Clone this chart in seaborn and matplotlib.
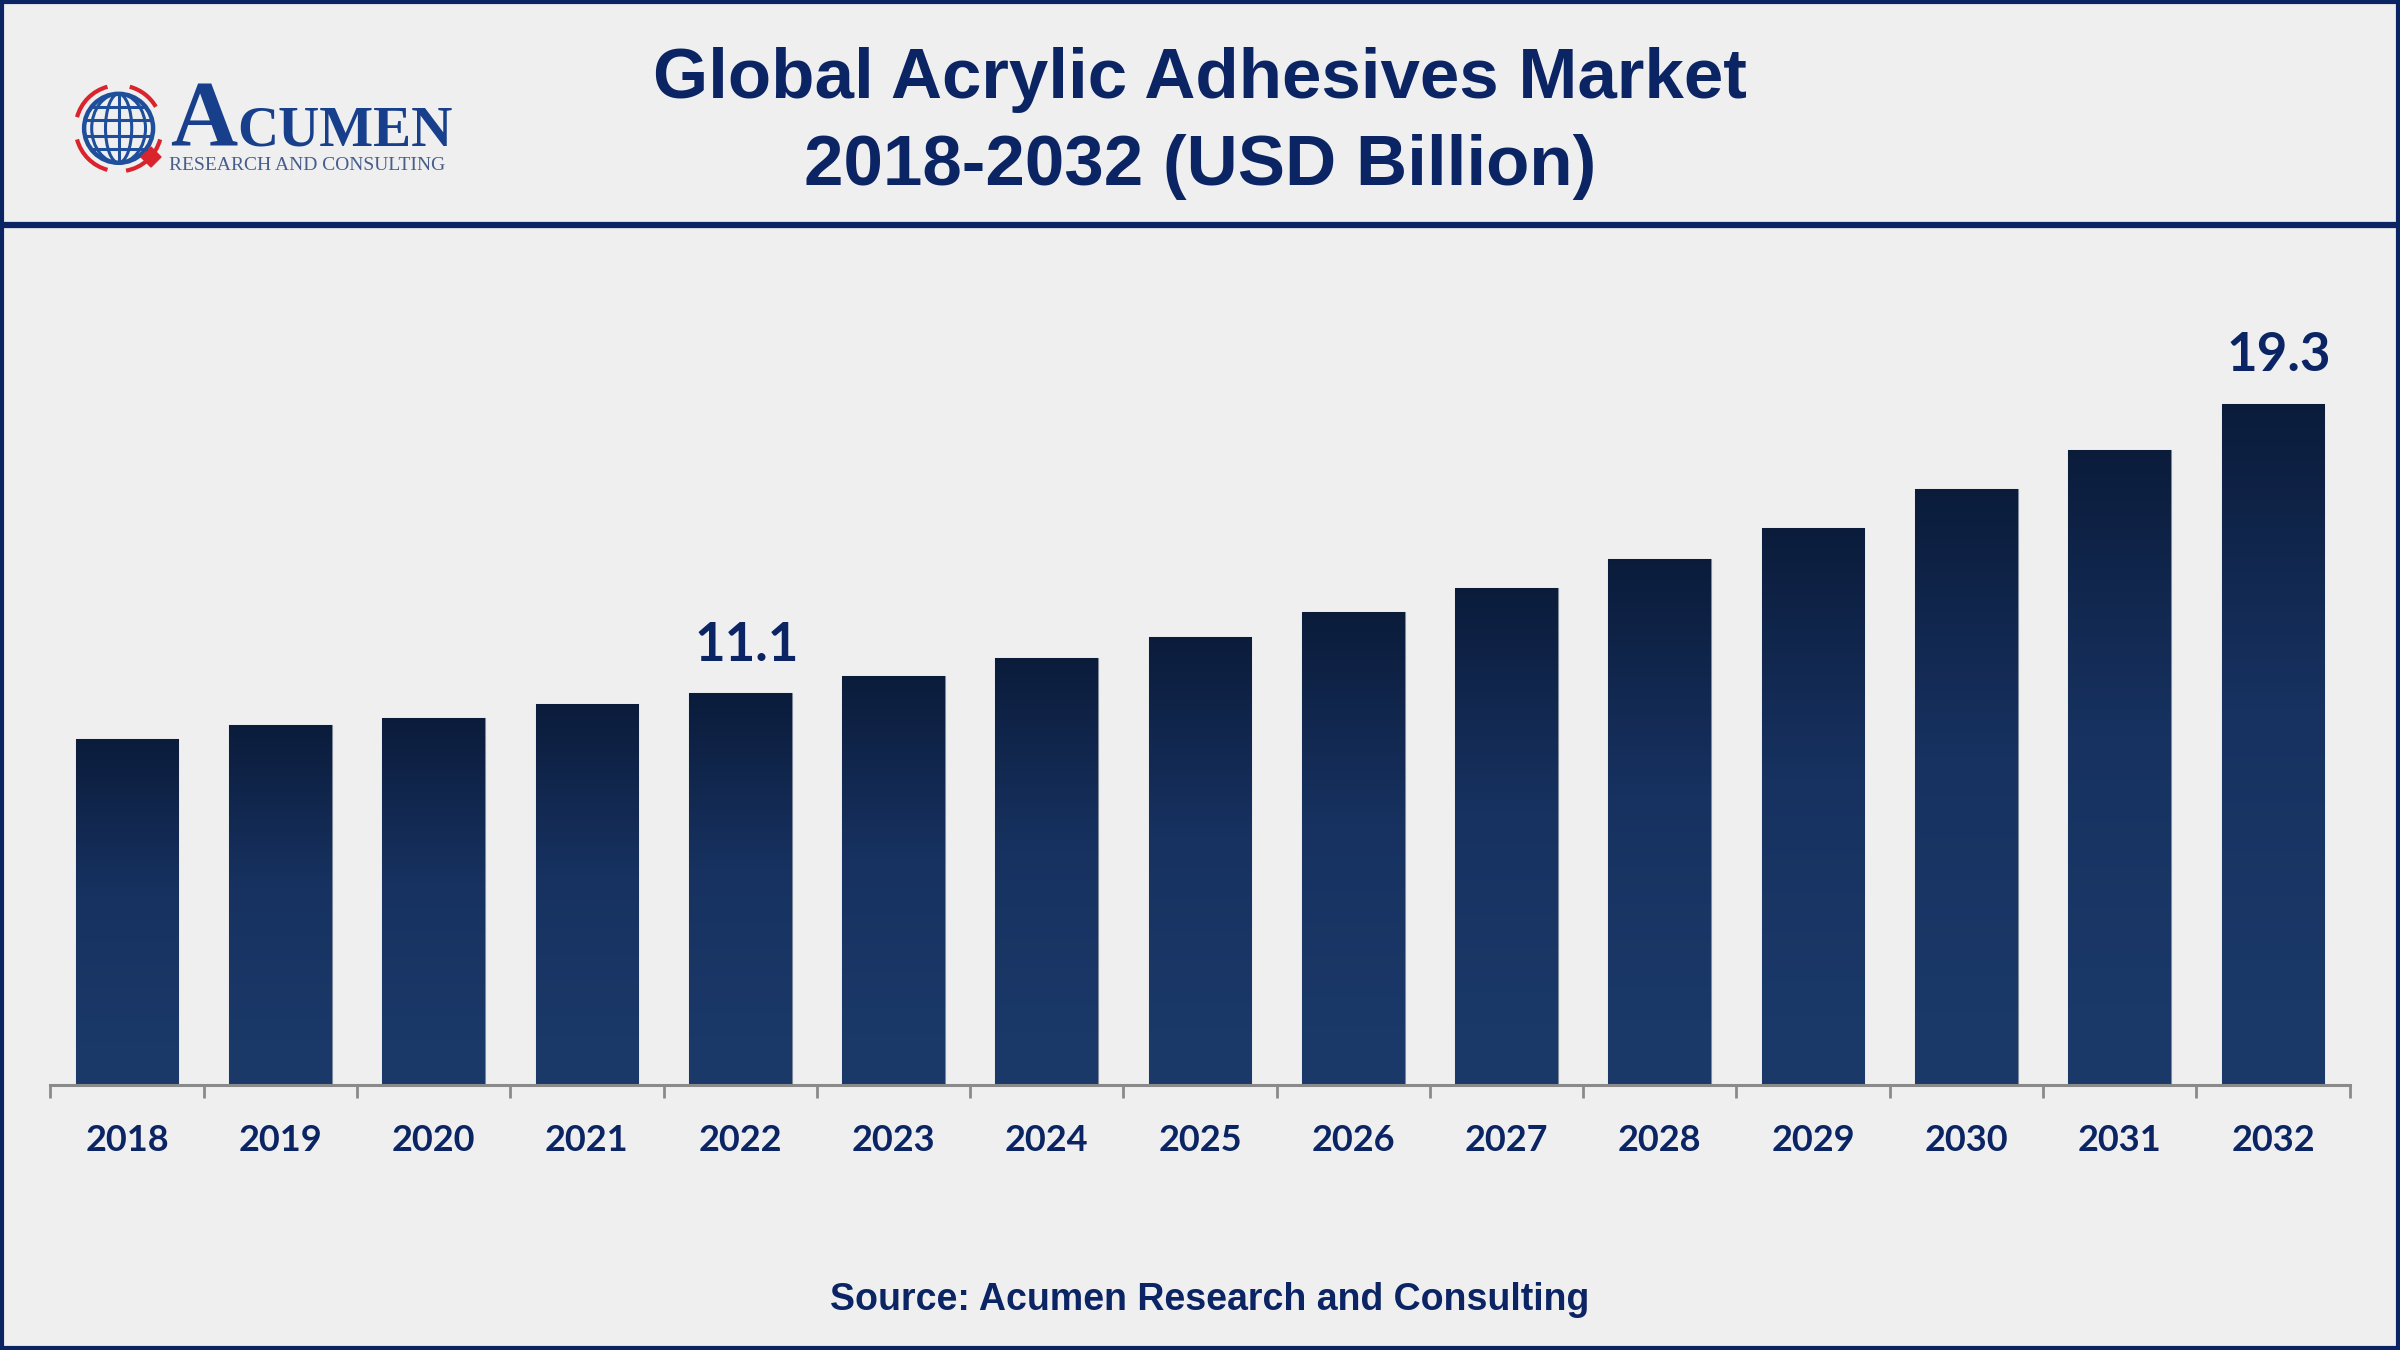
import numpy as np
import pandas as pd
import matplotlib
matplotlib.use("Agg")
import matplotlib.pyplot as plt
import seaborn as sns
from matplotlib.colors import LinearSegmentedColormap
from matplotlib.patches import Rectangle, Circle, Ellipse, Arc, RegularPolygon
from matplotlib.lines import Line2D

# Data
years = ["2018", "2019", "2020", "2021", "2022", "2023", "2024", "2025",
         "2026", "2027", "2028", "2029", "2030", "2031", "2032"]
values = [9.8, 10.2, 10.4, 10.8, 11.1, 11.6, 12.1, 12.7,
          13.4, 14.1, 14.9, 15.8, 16.9, 18.0, 19.3]
shown_labels = {"2022": "11.1", "2032": "19.3"}

title = "Global Acrylic Adhesives Market\n2018-2032 (USD Billion)"
source = "Source: Acumen Research and Consulting"

navy = "#0b2463"
bg = "#efefef"

df = pd.DataFrame({"year": years, "value": values})

sns.set_theme(style="white")
plt.rcParams["font.family"] = ["Liberation Sans", "DejaVu Sans"]

fig = plt.figure(figsize=(24, 13.5), dpi=100)
fig.patch.set_facecolor(bg)

ax = fig.add_axes([0.021, 0.1961, 0.958, 0.577])
ax.set_facecolor(bg)

sns.barplot(data=df, x="year", y="value", color="#16325e", width=0.67,
            edgecolor="#7f8a9a", linewidth=0.8, ax=ax)

# gradient fill on each bar
cmap = LinearSegmentedColormap.from_list(
    "bar", [(0, "#1b3a6a"), (0.55, "#173261"), (1, "#0b1c3b")])
grad = np.linspace(0, 1, 256).reshape(-1, 1)
for p in ax.patches:
    x0, w, h = p.get_x(), p.get_width(), p.get_height()
    im = ax.imshow(grad, cmap=cmap, aspect="auto", origin="lower",
                   extent=[x0, x0 + w, 0, h], zorder=p.get_zorder() + 0.1)
    im.set_clip_path(p)

ax.set_xlim(-0.5, len(years) - 0.5)
ax.set_ylim(0, 22.07)

# value labels
for i, (yr, v) in enumerate(zip(years, values)):
    if yr in shown_labels:
        ax.text(i + 0.04, v + 0.67, shown_labels[yr], ha="center", va="bottom",
                fontsize=38, fontweight="bold", color=navy, family="Lato")

# axes styling
for s in ["top", "right", "left"]:
    ax.spines[s].set_visible(False)
ax.spines["bottom"].set_color("#8a8a8a")
ax.spines["bottom"].set_linewidth(2.2)
ax.set_yticks([])
ax.set_xlabel("")
ax.set_ylabel("")
ax.set_xticks(np.arange(-0.5, len(years), 1.0), minor=True)
ax.tick_params(axis="x", which="minor", length=9, width=2, color="#8a8a8a",
               direction="out", bottom=True)
ax.tick_params(axis="x", which="major", length=0, pad=28)
for lab in ax.get_xticklabels():
    lab.set_fontsize(26)
    lab.set_fontweight("bold")
    lab.set_color(navy)
    lab.set_family("Lato")

# title and source
fig.text(0.5, 0.9085, title, ha="center", va="center", fontsize=51,
         fontweight="bold", color=navy, linespacing=1.42)
fig.text(0.504, 0.0374, source, ha="center", va="center", fontsize=27,
         fontweight="bold", color=navy)

# header line and frame
fig.add_artist(Line2D([0, 1], [0.8333, 0.8333], transform=fig.transFigure,
                      color=navy, lw=4.5))
fig.add_artist(Rectangle((0.0008, 0.0012), 0.9984, 0.9976,
                         transform=fig.transFigure, fill=False,
                         edgecolor=navy, lw=3))

# logo (drawn in pixel units of the figure, y pointing down)
lg = fig.add_axes([60 / 2400, 1 - 230 / 1350, 420 / 2400, 200 / 1350])
lg.set_xlim(60, 480)
lg.set_ylim(230, 30)
lg.axis("off")
gx, gy, r = 118.6, 128.3, 34.5
globe_blue = "#1f4e9a"
red = "#d9232d"
lg.add_patch(Circle((gx, gy), r, fill=False, ec=globe_blue, lw=3.2))
for k in [0.38, 0.78]:
    lg.add_patch(Ellipse((gx, gy), 2 * r * k, 2 * r, fill=False,
                         ec=globe_blue, lw=2.2))
for dy in [-21, -8, 8, 21]:
    half = np.sqrt(r ** 2 - dy ** 2)
    lg.plot([gx - half, gx + half], [gy + dy, gy + dy], color=globe_blue, lw=2.2)
lg.plot([gx, gx], [gy - r, gy + r], color=globe_blue, lw=2.2)
for t1, t2 in [(15, 80), (105, 165), (195, 255), (285, 330)]:
    lg.add_patch(Arc((gx, gy), 86, 86, theta1=t1, theta2=t2,
                     color=red, lw=3))
lg.add_patch(RegularPolygon((151, 157), 4, radius=10, color=red))
logo_blue = "#173f8c"
lg.text(170, 146, "A", fontsize=67, family="Liberation Serif",
        fontweight="bold", color=logo_blue, va="baseline", ha="left")
lg.text(237, 146, "CUMEN", fontsize=41, family="Liberation Serif",
        fontweight="bold", color=logo_blue, va="baseline", ha="left")
lg.text(169, 170, "RESEARCH AND CONSULTING", fontsize=14,
        family="Liberation Serif", color="#475d8c", va="baseline", ha="left")

fig.savefig("out.png", dpi=100, facecolor=bg)
